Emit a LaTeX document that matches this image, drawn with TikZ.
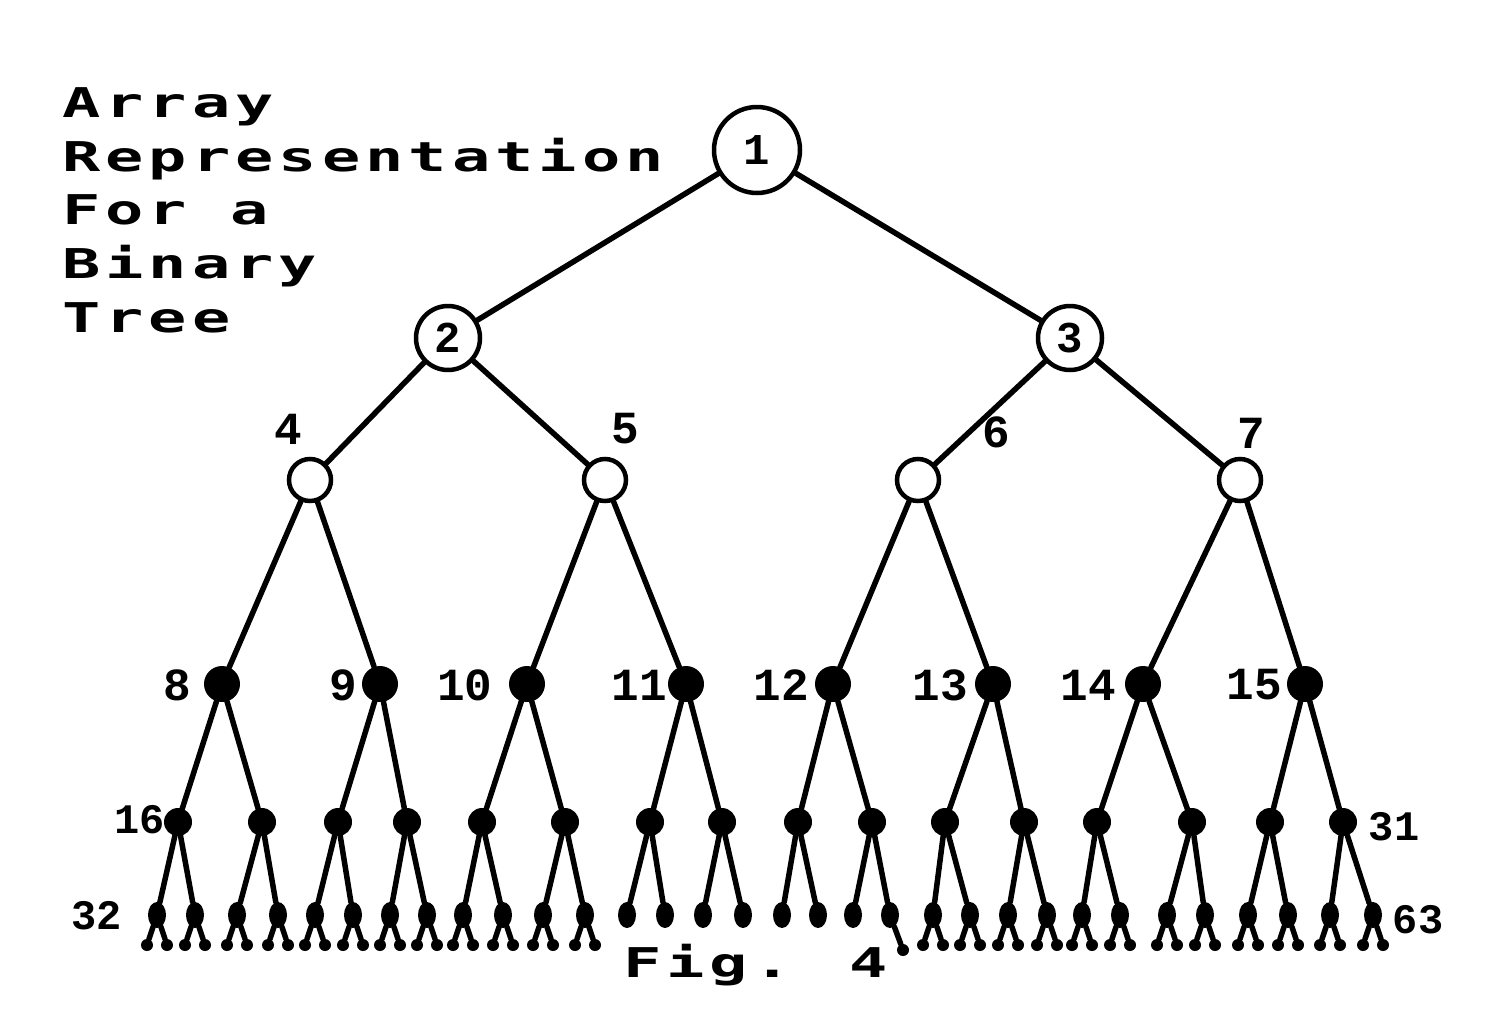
\documentclass[tikz,border=0pt]{standalone}
\usepackage{fontspec}
\usetikzlibrary{shapes.geometric}
\newfontfamily\pixfont[LetterSpace=8]{DejaVu Sans Mono}
\newfontfamily\numfont{Liberation Mono}
\newcommand{\wide}[1]{\scalebox{1.55}[1]{#1}}
\begin{document}
\begin{tikzpicture}[x=1pt,y=-1pt]
\tikzset{
  edge/.style={line width=5.5pt, line cap=round},
  bigc/.style={circle, draw, line width=4.5pt, fill=white, inner sep=0pt, minimum size=86pt,
    font=\numfont\bfseries\fontsize{44}{44}\selectfont},
  midc/.style={bigc, minimum size=64pt},
  openc/.style={circle, draw, line width=4.5pt, fill=white, inner sep=0pt, minimum size=42pt},
  dfour/.style={circle, fill=black, inner sep=0pt, minimum size=36pt},
  dfive/.style={circle, fill=black, inner sep=0pt, minimum size=28pt},
  dsix/.style={ellipse, fill=black, inner sep=0pt, minimum width=18pt, minimum height=26pt},
  dseven/.style={circle, fill=black, inner sep=0pt, minimum size=12pt},
  lab/.style={font=\numfont\bfseries\fontsize{46}{46}\selectfont, inner sep=0pt},
  slab/.style={font=\numfont\bfseries\fontsize{42}{42}\selectfont, inner sep=0pt},
  ttl/.style={font=\pixfont\bfseries\fontsize{41}{41}\selectfont, anchor=base west, inner sep=0pt},
}
\fill[white] (0,0) rectangle (1508,1026);
\useasboundingbox (0,0) rectangle (1508,1026);

% title
\node[ttl] (t1) at (62,117) {\wide{Array}};
\node[ttl] (t2) at (62,171) {\wide{Representation}};
\node[ttl] (t3) at (62,224) {\wide{For a}};
\node[ttl] (t4) at (62,278) {\wide{Binary}};
\node[ttl] (t5) at (62,332) {\wide{Tree}};
\node[ttl] (fig) at (623,977) {\wide{Fig. 4}};

% level 1-3
\node[bigc] (n1) at (757,150) {1};
\node[midc] (n2) at (448,338) {2};
\node[midc] (n3) at (1070,338) {3};
\foreach \x [count=\k from 4] in {310,605,918,1240}
  \node[openc] (n\k) at (\x,480) {};
% level 4
\foreach \x [count=\k from 8] in {222,380,527,686,833,993,1143,1305}
  \node[dfour] (n\k) at (\x,684) {};
% level 5
\foreach \x [count=\k from 16] in {178,262,338,407,482,565,650,722,798,872,945,1024,1097,1192,1270,1343}
  \node[dfive] (n\k) at (\x,822) {};
% level 6 with legs
\foreach \x [count=\k from 32] in {157,195,237,278,315,353,390,427,463,503,543,585,627,665,703,743,782,818,853,890,933,970,1008,1047,1082,1120,1167,1205,1248,1288,1330,1373}{
  \node[dsix] (n\k) at (\x,915) {};
  \pgfmathtruncatemacro\legs{(\k<44 || \k>51) ? 2 : ((\k==51) ? 1 : 0)}
  \ifnum\legs=2
    \node[dseven] (n\k-a) at (\x-10,945) {};
    \node[dseven] (n\k-b) at (\x+10,945) {};
    \draw[edge] (n\k) -- (n\k-a);
    \draw[edge] (n\k) -- (n\k-b);
  \fi
  \ifnum\legs=1
    \node[dseven] (n\k-b) at (\x+13,950) {};
    \draw[edge] (n\k) -- (n\k-b);
  \fi
}
% edges
\foreach \i in {2,...,63}{
  \pgfmathtruncatemacro\p{floor(\i/2)}
  \draw[edge] (n\p) -- (n\i);
}

% labels
\node[lab] (l4) at (288,429) {4};
\node[lab] (l5) at (625,429) {5};
\node[lab] (l6) at (996,432) {6};
\node[lab] (l7) at (1251,433) {7};
\node[lab] (l8) at (177,685) {8};
\node[lab] (l9) at (343,685) {9};
\node[lab] (l10) at (465,685) {10};
\node[lab] (l11) at (639,685) {11};
\node[lab] (l12) at (781,685) {12};
\node[lab] (l13) at (940,685) {13};
\node[lab] (l14) at (1088,685) {14};
\node[lab] (l15) at (1254,685) {15};
\node[slab] (l16) at (140,820) {16};
\node[slab] (l31) at (1394,827) {31};
\node[slab] (l32) at (97,916) {32};
\node[slab] (l63) at (1418,920) {63};
\end{tikzpicture}
\end{document}
